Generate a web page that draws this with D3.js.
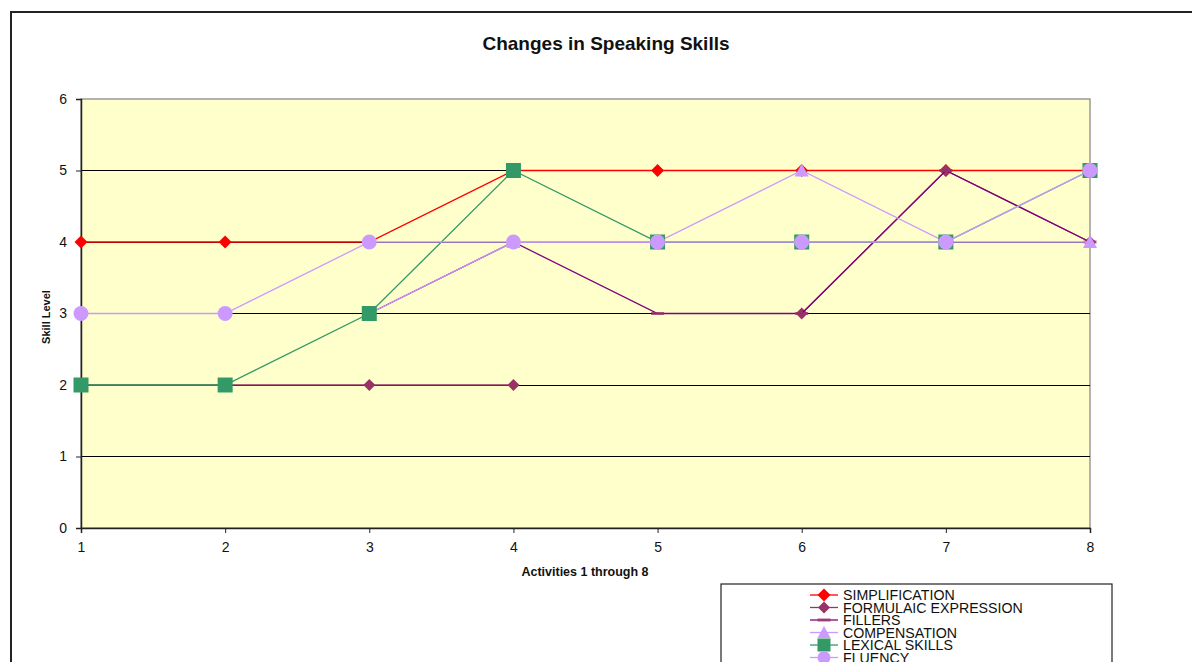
<!DOCTYPE html>
<html><head><meta charset="utf-8">
<script src="https://cdn.jsdelivr.net/npm/d3@7"></script>
<style>body{margin:0;background:#fff;}svg{display:block;font-family:"Liberation Sans",Arial,sans-serif;}</style>
</head><body><svg id="c" width="1192" height="662"></svg>
<script>
const activities = [1,2,3,4,5,6,7,8];
const yTicks = [0,1,2,3,4,5,6];
const seriesNames = ["SIMPLIFICATION","FORMULAIC EXPRESSION","FILLERS","COMPENSATION","LEXICAL SKILLS","FLUENCY"];
const simplification = [4,4,4,5,5,5,5,5];
const formulaic = [2,2,2,2,null,3,5,4];
const fillers = [null,null,3,4,3,3,5,4];
const compensation = [null,null,3,4,4,5,4,4];
const lexical = [2,2,3,5,4,4,4,5];
const fluency = [3,3,4,4,4,4,4,5];
const title = "Changes in Speaking Skills";
const xTitle = "Activities 1 through 8";
const yTitle = "Skill Level";

const svg = d3.select("#c");
const L=81,R=1090,T=99,B=528;
const x = d3.scaleLinear().domain([1,8]).range([L,R]);
const y = d3.scaleLinear().domain([0,6]).range([B,T]);

// outer frame
svg.append("rect").attr("x",11).attr("y",12).attr("width",1200).attr("height",700)
  .attr("fill","#fff").attr("stroke","#222").attr("stroke-width",2);

svg.append("text").attr("x",606).attr("y",50).attr("text-anchor","middle")
  .attr("font-weight","bold").attr("font-size",19).attr("fill","#111").text(title);

// plot background
svg.append("rect").attr("x",L).attr("y",T).attr("width",R-L).attr("height",B-T)
  .attr("fill","#FFFFCC").attr("stroke","#808080").attr("stroke-width",1.2);

// gridlines
svg.append("g").attr("shape-rendering","crispEdges").selectAll("line").data(yTicks.filter(d=>d>0&&d<6)).join("line")
  .attr("x1",L).attr("x2",R).attr("y1",d=>y(d)).attr("y2",d=>y(d))
  .attr("stroke","#000").attr("stroke-width",1);

// axes
const yAxis = d3.axisLeft(y).tickValues(yTicks).tickFormat(d3.format("d")).tickSize(5).tickPadding(9);
const gy = svg.append("g").attr("transform",`translate(${L},0)`).call(yAxis);
const xAxis = d3.axisBottom(x).tickValues(activities).tickFormat(d3.format("d")).tickSize(5).tickPadding(9);
const gx = svg.append("g").attr("transform",`translate(0,${B})`).call(xAxis);
[gy,gx].forEach(g=>{
  g.attr("font-size",null).attr("font-family",null);
  g.select(".domain").attr("stroke","#222").attr("stroke-width",1.5);
  g.selectAll(".tick line").attr("stroke","#222");
  g.selectAll(".tick text").style("font-size","14px").attr("fill","#111");
});

svg.append("text").attr("x",585).attr("y",576).attr("text-anchor","middle")
  .attr("font-weight","bold").attr("font-size",12.5).attr("fill","#111").text(xTitle);
svg.append("text").attr("transform","translate(50,317) rotate(-90)").attr("text-anchor","middle")
  .attr("font-weight","bold").attr("font-size",11).attr("fill","#111").text(yTitle);

const styles = [
  {data:simplification, line:"#FF0000", fill:"#FF0000", shape:"diamond", size:13},
  {data:formulaic, line:"#993366", fill:"#993366", shape:"diamond", size:12},
  {data:fillers, line:"#800080", fill:"#993366", shape:"dash", size:13},
  {data:compensation, line:"#CC99FF", fill:"#CC99FF", shape:"triangle", size:14},
  {data:lexical, line:"#339966", fill:"#339966", shape:"square", size:15},
  {data:fluency, line:"#CC99FF", fill:"#CC99FF", shape:"circle", size:15}
];

function marker(g, shape, cx, cy, s, fill){
  if(shape==="diamond"){
    const h=s/2;
    g.append("path").attr("d",`M${cx},${cy-h}L${cx+h},${cy}L${cx},${cy+h}L${cx-h},${cy}Z`).attr("fill",fill);
  } else if(shape==="square"){
    g.append("rect").attr("x",cx-s/2).attr("y",cy-s/2).attr("width",s).attr("height",s).attr("fill",fill);
  } else if(shape==="circle"){
    g.append("circle").attr("cx",cx).attr("cy",cy).attr("r",s/2).attr("fill",fill);
  } else if(shape==="triangle"){
    const h=s/2;
    g.append("path").attr("d",`M${cx},${cy-h}L${cx+h},${cy+h-1}L${cx-h},${cy+h-1}Z`).attr("fill",fill);
  } else if(shape==="dash"){
    g.append("rect").attr("x",cx-s/2).attr("y",cy-1.5).attr("width",s).attr("height",3).attr("fill",fill).attr("opacity",0.8);
  }
}

const line = d3.line().defined(d=>d.v!=null).x(d=>x(d.a)).y(d=>y(d.v));
styles.forEach(s=>{
  const pts = activities.map((a,i)=>({a, v:s.data[i]}));
  const g = svg.append("g");
  g.append("path").datum(pts).attr("d",line).attr("fill","none").attr("stroke",s.line).attr("stroke-width",1.3);
  pts.filter(p=>p.v!=null).forEach(p=>marker(g,s.shape,x(p.a),y(p.v),s.size,s.fill));
});

// legend
const lg = svg.append("g");
lg.append("rect").attr("x",721).attr("y",584).attr("width",391).attr("height",120)
  .attr("fill","#fff").attr("stroke","#222").attr("stroke-width",1.2);
seriesNames.forEach((n,i)=>{
  const cy = 595 + i*12.5;
  const s = styles[i];
  lg.append("line").attr("x1",810).attr("x2",838).attr("y1",cy).attr("y2",cy).attr("stroke",s.line).attr("stroke-width",1.3);
  marker(lg, s.shape, 824, cy, s.shape==="dash"?13:Math.min(s.size,13), s.fill);
  lg.append("text").attr("x",843).attr("y",cy+5).attr("font-size",14.2).attr("fill","#111").text(n);
});
</script></body></html>
